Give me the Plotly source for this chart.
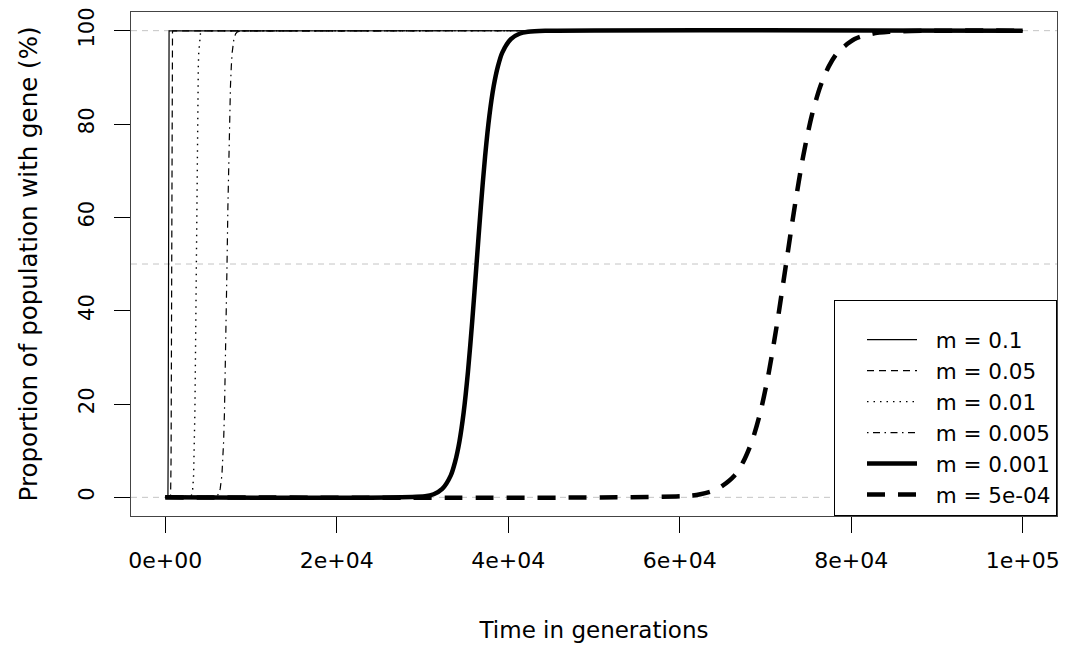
import plotly.graph_objects as go

# Spread of the gene through the population for several migration rates m.
# Time in generations, share of population carrying the gene in percent.
gen_m0p1 = [0, 300, 310, 320, 330, 335, 340, 345, 350, 355, 360, 365, 370,
            375, 380, 385, 390, 400, 410, 420, 440, 100000]
pct_m0p1 = [0, 0.25, 0.67, 1.8, 4.7, 7.6, 11.9, 18.2, 26.9, 37.8, 50, 62.2,
            73.1, 81.8, 88.1, 92.4, 95.3, 98.2, 99.33, 99.75, 99.97, 100]

gen_m0p05 = [0, 600, 620, 640, 660, 670, 680, 690, 700, 710, 720, 730, 740,
             750, 760, 770, 780, 800, 820, 840, 880, 100000]
pct_m0p05 = [0, 0.25, 0.67, 1.8, 4.7, 7.6, 11.9, 18.2, 26.9, 37.8, 50, 62.2,
             73.1, 81.8, 88.1, 92.4, 95.3, 98.2, 99.33, 99.75, 99.97, 100]

gen_m0p01 = [0, 3000, 3100, 3200, 3300, 3350, 3400, 3450, 3500, 3550, 3600,
             3650, 3700, 3750, 3800, 3850, 3900, 4000, 4100, 4200, 4400, 100000]
pct_m0p01 = [0, 0.25, 0.67, 1.8, 4.7, 7.6, 11.9, 18.2, 26.9, 37.8, 50, 62.2,
             73.1, 81.8, 88.1, 92.4, 95.3, 98.2, 99.33, 99.75, 99.97, 100]

gen_m0p005 = [0, 6000, 6200, 6400, 6600, 6700, 6800, 6900, 7000, 7100, 7200,
              7300, 7400, 7500, 7600, 7700, 7800, 8000, 8200, 8400, 8800, 100000]
pct_m0p005 = [0, 0.25, 0.67, 1.8, 4.7, 7.6, 11.9, 18.2, 26.9, 37.8, 50, 62.2,
              73.1, 81.8, 88.1, 92.4, 95.3, 98.2, 99.33, 99.75, 99.97, 100]

gen_m0p001 = [0, 30300, 31300, 32300, 33300, 33800, 34300, 34800, 35300, 35800,
              36300, 36800, 37300, 37800, 38300, 38800, 39300, 40300, 41300,
              42300, 44300, 100000]
pct_m0p001 = [0, 0.25, 0.67, 1.8, 4.7, 7.6, 11.9, 18.2, 26.9, 37.8, 50, 62.2,
              73.1, 81.8, 88.1, 92.4, 95.3, 98.2, 99.33, 99.75, 99.97, 100]

gen_m5em4 = [0, 60400, 62400, 64400, 66400, 67400, 68400, 69400, 70400, 71400,
             72400, 73400, 74400, 75400, 76400, 77400, 78400, 80400, 82400,
             84400, 88400, 100000]
pct_m5em4 = [0, 0.25, 0.67, 1.8, 4.7, 7.6, 11.9, 18.2, 26.9, 37.8, 50, 62.2,
             73.1, 81.8, 88.1, 92.4, 95.3, 98.2, 99.33, 99.75, 99.97, 100]

series_labels = ["m = 0.1", "m = 0.05", "m = 0.01", "m = 0.005", "m = 0.001", "m = 5e-04"]

x_tickvals = [0, 20000, 40000, 60000, 80000, 100000]
x_ticktext = ["0e+00", "2e+04", "4e+04", "6e+04", "8e+04", "1e+05"]
y_tickvals = [0, 20, 40, 60, 80, 100]
y_ticktext = ["0", "20", "40", "60", "80", "100"]
reference_levels = [0, 50, 100]

FONT = "DejaVu Sans"
NBSP = "\u00a0"

# thin lines for the fast rates, heavy lines (smoothed) for the slow ones
styles = [
    dict(width=1.2, dash="solid", shape="linear"),
    dict(width=1.2, dash="7px,5px", shape="linear"),
    dict(width=1.4, dash="1.5px,5px", shape="linear"),
    dict(width=1.2, dash="1.5px,4.5px,7px,4.5px", shape="linear"),
    dict(width=4.5, dash="solid", shape="spline"),
    dict(width=4.5, dash="18px,13px", shape="spline"),
]

series = [
    (gen_m0p1, pct_m0p1),
    (gen_m0p05, pct_m0p05),
    (gen_m0p01, pct_m0p01),
    (gen_m0p005, pct_m0p005),
    (gen_m0p001, pct_m0p001),
    (gen_m5em4, pct_m5em4),
]

fig = go.Figure()

for level in reference_levels:
    fig.add_hline(y=level, line=dict(color="#c4c4c4", width=1, dash="6px,5px"),
                  layer="below")

for (gen, pct), label, st in zip(series, series_labels, styles):
    line = dict(color="black", width=st["width"], dash=st["dash"], shape=st["shape"])
    if st["shape"] == "spline":
        line["smoothing"] = 0.8
    fig.add_trace(go.Scatter(
        x=gen, y=pct, mode="lines", name=NBSP * 2 + label, line=line,
    ))

fig.update_layout(
    width=1068, height=649,
    margin=dict(l=131, r=8, t=9, b=133),
    paper_bgcolor="white", plot_bgcolor="white",
    font=dict(family=FONT, size=22, color="black"),
    showlegend=True,
    legend=dict(
        x=1, y=0, xanchor="right", yanchor="bottom",
        bordercolor="black", borderwidth=1, bgcolor="white",
        font=dict(family=FONT, size=21.5, color="black"),
        itemwidth=50, tracegroupgap=0, indentation=27,
        title=dict(text=" ", font=dict(size=14)),
    ),
)

fig.update_xaxes(
    range=[-4000, 104000], tickmode="array",
    tickvals=x_tickvals, ticktext=x_ticktext,
    ticks="outside", ticklen=16, tickwidth=1, tickcolor="black",
    ticklabelstandoff=9,
    showgrid=False, zeroline=False,
    showline=True, mirror=True, linecolor="#444", linewidth=1,
    title=dict(text="Time in generations", font=dict(family=FONT, size=23), standoff=49),
    tickfont=dict(family=FONT, size=22),
)

fig.update_yaxes(
    range=[-4, 104], tickmode="array",
    tickvals=y_tickvals, ticktext=y_ticktext, tickangle=-90,
    ticks="outside", ticklen=16, tickwidth=1, tickcolor="black",
    ticklabelstandoff=12,
    showgrid=False, zeroline=False,
    showline=True, mirror=True, linecolor="#444", linewidth=1,
    title=dict(text="Proportion of population with gene (%)",
               font=dict(family=FONT, size=24.5), standoff=30),
    tickfont=dict(family=FONT, size=21),
)

fig.write_html("out.html")
